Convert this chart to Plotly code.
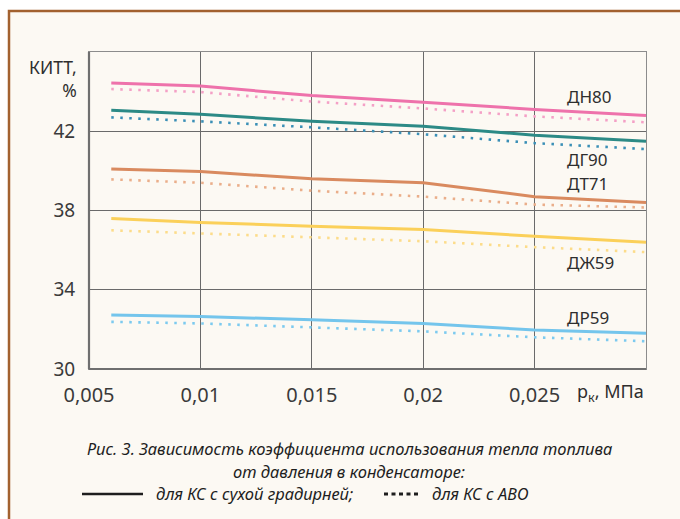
import plotly.graph_objects as go

# ---- data ----
x_vals = [0.006, 0.01, 0.015, 0.02, 0.025, 0.03]

dn80_dry = [44.43, 44.28, 43.80, 43.47, 43.10, 42.80]
dn80_avo = [44.13, 43.98, 43.50, 43.15, 42.75, 42.45]
dg90_dry = [43.06, 42.86, 42.50, 42.25, 41.80, 41.50]
dg90_avo = [42.70, 42.50, 42.20, 41.85, 41.40, 41.10]
dt71_dry = [40.10, 39.97, 39.60, 39.40, 38.70, 38.40]
dt71_avo = [39.57, 39.40, 39.00, 38.70, 38.30, 38.15]
dzh59_dry = [37.60, 37.40, 37.20, 37.04, 36.70, 36.40]
dzh59_avo = [37.00, 36.85, 36.65, 36.45, 36.15, 35.90]
dr59_dry = [32.73, 32.65, 32.48, 32.30, 31.97, 31.80]
dr59_avo = [32.38, 32.30, 32.10, 31.90, 31.60, 31.40]

series_names = ["ДН80", "ДГ90", "ДТ71", "ДЖ59", "ДР59"]
dry_series = [dn80_dry, dg90_dry, dt71_dry, dzh59_dry, dr59_dry]
avo_series = [dn80_avo, dg90_avo, dt71_avo, dzh59_avo, dr59_avo]
dry_colors = ["#ee72ab", "#2c8a86", "#d98a5f", "#fbd05a", "#74c5ec"]
avo_colors = ["#f4a0c6", "#3a8fb6", "#eaae8a", "#fcdc8a", "#7ccaef"]

label_x = 0.02635
label_y = [43.73, 40.55, 39.34, 35.4, 32.62]

x_ticks = [0.005, 0.01, 0.015, 0.02, 0.025]
x_tick_text = ["0,005", "0,01", "0,015", "0,02", "0,025"]
y_ticks = [30, 34, 38, 42]
y_tick_text = ["30", "34", "38", "42"]

y_title = "КИТТ,<br>%"
x_title = "p<sub>к</sub>, МПа"
caption1 = "Рис. 3. Зависимость коэффициента использования тепла топлива"
caption2 = "от давления в конденсаторе:"
legend_dry = "для КС с сухой градирней;"
legend_avo = "для КС с АВО"

# ---- layout geometry (pixels) ----
W, H = 680, 519
L, R, T, B = 89, 646, 52, 369


def px(x):
    return (x - L) / (R - L)


def py(y):
    return (B - y) / (B - T)


FONT = "Noto Sans"
TXT = "#2e2e2e"
CAP = "#1e1e1e"

fig = go.Figure()

for name, ys, c in zip(series_names, avo_series, avo_colors):
    fig.add_trace(go.Scatter(x=x_vals, y=ys, mode="lines", name=name + " АВО",
                             line=dict(color=c, width=2.6, dash="2.5px,6.5px"),
                             showlegend=False, hoverinfo="skip"))
for name, ys, c in zip(series_names, dry_series, dry_colors):
    fig.add_trace(go.Scatter(x=x_vals, y=ys, mode="lines", name=name,
                             line=dict(color=c, width=3),
                             showlegend=False, hoverinfo="skip"))

annotations = []
for name, ly in zip(series_names, label_y):
    annotations.append(dict(x=label_x, y=ly, xref="x", yref="y", text=name,
                            showarrow=False, xanchor="left", yanchor="middle",
                            font=dict(family=FONT, size=17, color=TXT)))

annotations += [
    dict(x=px(79), y=py(78), xref="paper", yref="paper", text=y_title,
         showarrow=False, xanchor="right", yanchor="middle", align="right",
         font=dict(family=FONT, size=17.5, color=TXT)),
    dict(x=px(646), y=py(392), xref="paper", yref="paper",
         text=x_title,
         showarrow=False, xanchor="right", yanchor="middle",
         font=dict(family=FONT, size=18, color=TXT)),
    dict(x=px(349), y=py(448), xref="paper", yref="paper",
         text="<i>" + caption1 + "</i>",
         showarrow=False, xanchor="center", yanchor="middle",
         font=dict(family=FONT, size=16.5, color=CAP)),
    dict(x=px(349), y=py(471), xref="paper", yref="paper",
         text="<i>" + caption2 + "</i>",
         showarrow=False, xanchor="center", yanchor="middle",
         font=dict(family=FONT, size=16.5, color=CAP)),
    dict(x=px(154), y=py(493), xref="paper", yref="paper",
         text="<i>" + legend_dry + "</i>",
         showarrow=False, xanchor="left", yanchor="middle",
         font=dict(family=FONT, size=16.5, color=CAP)),
    dict(x=px(430), y=py(493), xref="paper", yref="paper",
         text="<i>" + legend_avo + "</i>",
         showarrow=False, xanchor="left", yanchor="middle",
         font=dict(family=FONT, size=16.5, color=CAP)),
]

shapes = [
    # card background with brown border
    dict(type="rect", xref="paper", yref="paper", layer="below",
         x0=px(9), x1=px(700), y0=py(540), y1=py(11),
         fillcolor="#fcf9f3", line=dict(color="#a2612f", width=2.5)),
    # thicker left & bottom axis lines
    dict(type="line", xref="paper", yref="paper", x0=0, x1=0, y0=0, y1=1,
         line=dict(color="#6f6f6f", width=2.2)),
    dict(type="line", xref="paper", yref="paper", x0=0, x1=1, y0=0, y1=0,
         line=dict(color="#6f6f6f", width=2.2)),
    # legend samples
    dict(type="line", xref="paper", yref="paper", x0=px(82), x1=px(143),
         y0=py(494), y1=py(494), line=dict(color=CAP, width=2.5)),
    dict(type="line", xref="paper", yref="paper", x0=px(384), x1=px(418),
         y0=py(494), y1=py(494),
         line=dict(color=CAP, width=3, dash="4px,3.5px")),
]

fig.update_layout(
    width=W, height=H,
    margin=dict(l=L, r=W - R, t=T, b=H - B, pad=0),
    paper_bgcolor="white",
    plot_bgcolor="rgba(0,0,0,0)",
    showlegend=False,
    annotations=annotations,
    shapes=shapes,
    xaxis=dict(range=[0.005, 0.03], tickvals=x_ticks, ticktext=x_tick_text,
               showgrid=True, gridcolor="#6a6a6a", gridwidth=1,
               showline=True, mirror=True, linecolor="#8c8c8c", linewidth=1,
               zeroline=False, ticks="", ticklabelstandoff=8,
               tickfont=dict(family=FONT, size=20, color="#3a3a3a")),
    yaxis=dict(range=[30, 46], tickvals=y_ticks, ticktext=y_tick_text,
               showgrid=True, gridcolor="#6a6a6a", gridwidth=1,
               showline=True, mirror=True, linecolor="#8c8c8c", linewidth=1,
               zeroline=False, ticks="", ticklabelstandoff=9,
               tickfont=dict(family=FONT, size=19, color="#3a3a3a")),
)

fig.write_html("out.html")
